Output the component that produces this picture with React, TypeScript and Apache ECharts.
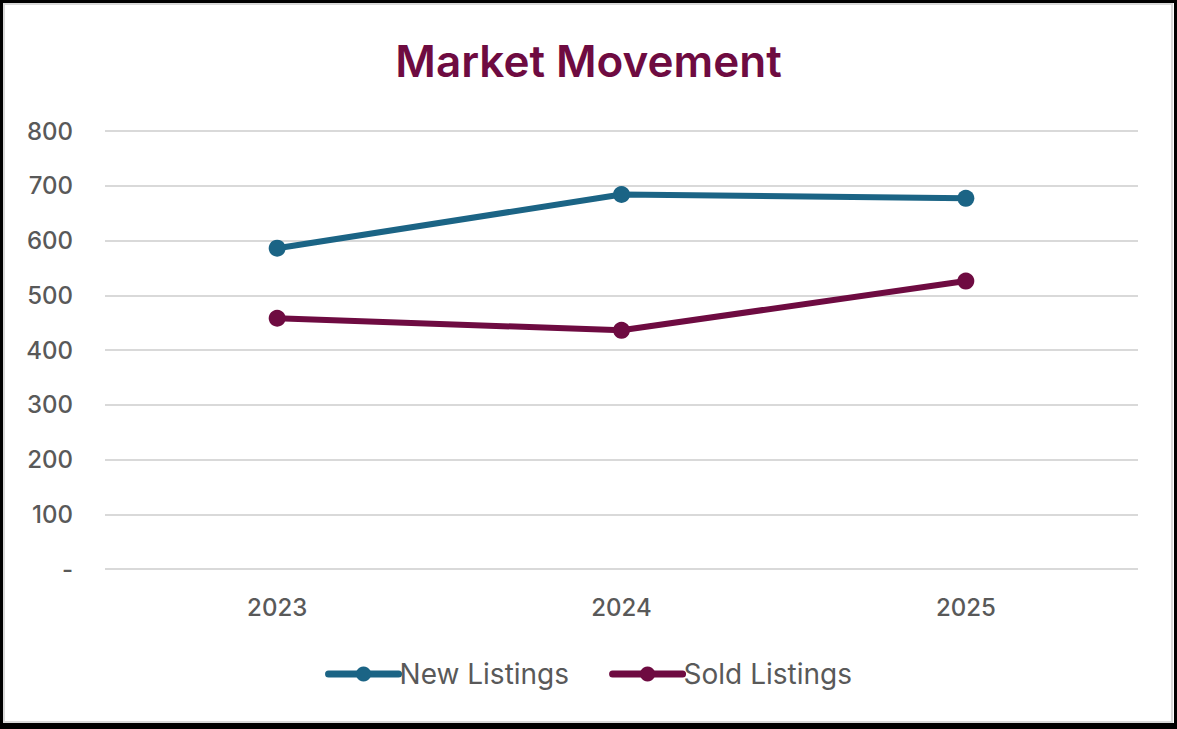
import React, { useEffect, useRef } from "react";
import * as echarts from "echarts";

const years = ["2023", "2024", "2025"];
const newListings = [586, 684, 677];
const soldListings = [458, 436, 526];
const yTicks = { min: 0, max: 800, interval: 100 };

export default function App() {
  const ref = useRef<HTMLDivElement>(null);
  useEffect(() => {
    document.body.style.margin = "0";
    const chart = echarts.init(ref.current!, null, { renderer: "svg" });
    const font = "Inter, 'Noto Sans', sans-serif";
    chart.setOption({
      animation: false,
      backgroundColor: "#ffffff",
      title: {
        text: "Market Movement",
        left: "center",
        top: 34,
        textStyle: { fontFamily: font, fontSize: 44, fontWeight: 600, color: "#6e0b41" },
      },
      grid: { left: 105, right: 39, top: 131, bottom: 160, containLabel: false },
      legend: {
        bottom: 36,
        left: "center",
        itemWidth: 70,
        itemHeight: 19,
        itemGap: 40,
        lineStyle: { width: 7 },
        textStyle: { fontFamily: font, fontSize: 28, color: "#595959", padding: [0, 0, 0, -4] },
        data: ["New Listings", "Sold Listings"],
      },
      xAxis: {
        type: "category",
        data: years,
        boundaryGap: true,
        axisLine: { show: false },
        axisTick: { show: false },
        axisLabel: { fontFamily: font, fontSize: 24, fontWeight: 500, color: "#595959", margin: 26 },
      },
      yAxis: {
        type: "value",
        min: yTicks.min,
        max: yTicks.max,
        interval: yTicks.interval,
        axisLine: { show: false },
        axisTick: { show: false },
        splitLine: { lineStyle: { color: "#d9d9d9", width: 2 } },
        axisLabel: {
          fontFamily: font,
          fontSize: 24,
          fontWeight: 500,
          color: "#595959",
          margin: 32,
          formatter: (v: number) => (v === 0 ? "-" : String(v)),
        },
      },
      series: [
        {
          name: "New Listings",
          type: "line",
          data: newListings,
          symbol: "circle",
          symbolSize: 17,
          color: "#1b6485",
          lineStyle: { width: 6, color: "#1b6485", cap: "round" },
          itemStyle: { color: "#1b6485" },
        },
        {
          name: "Sold Listings",
          type: "line",
          data: soldListings,
          symbol: "circle",
          symbolSize: 17,
          color: "#6e0b41",
          lineStyle: { width: 6, color: "#6e0b41", cap: "round" },
          itemStyle: { color: "#6e0b41" },
        },
      ],
      graphic: [
        {
          type: "rect",
          silent: true,
          shape: { x: 1.5, y: 1.5, width: 1174, height: 724 },
          style: { fill: "none", stroke: "#000000", lineWidth: 3 },
        },
        {
          type: "rect",
          silent: true,
          shape: { x: 0, y: 723, width: 1177, height: 6 },
          style: { fill: "#000000" },
        },
        {
          type: "rect",
          silent: true,
          shape: { x: 4, y: 4, width: 1168, height: 718 },
          style: { fill: "none", stroke: "#d9d9d9", lineWidth: 2 },
        },
      ],
    });
    return () => chart.dispose();
  }, []);
  return <div ref={ref} style={{ width: 1177, height: 729 }} />;
}
